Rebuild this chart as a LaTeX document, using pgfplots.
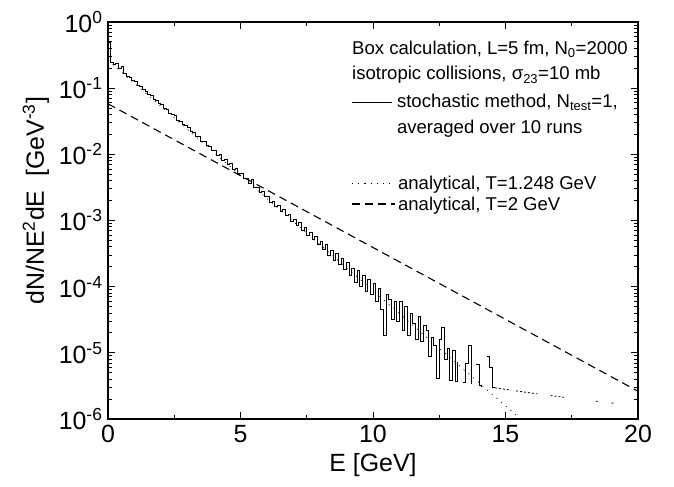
\documentclass[border=0pt]{standalone}
\usepackage{pgfplots}
\pgfplotsset{compat=1.18}
\usepackage{fontspec}
\setmainfont{Liberation Sans}

\pgfplotstableread{
E y
0.0 0.49
0.1 0.245
0.2 0.225
0.3 0.235
0.4 0.200
0.5 0.212
0.6 0.166
0.7 0.150
0.8 0.146
0.9 0.130
1.0 0.124
1.1 0.110
1.2 0.106
1.3 0.094
1.4 0.089
1.5 0.079
1.6 0.077
1.7 0.068
1.8 0.066
1.9 0.058
2.0 0.0560
2.1 0.0490
2.2 0.0480
2.3 0.0420
2.4 0.0400
2.5 0.0380
2.6 0.0325
2.7 0.0318
2.8 0.0280
2.9 0.0272
3.0 0.0252
3.1 0.0218
3.2 0.0215
3.3 0.0188
3.4 0.0183
3.5 0.0158
3.6 0.0157
3.7 0.0134
3.8 0.0133
3.9 0.0114
4.0 0.0114
4.1 0.0097
4.2 0.0098
4.3 0.0082
4.4 0.0083
4.5 0.0070
4.6 0.0072
4.7 0.0060
4.8 0.0062
4.9 0.0051
5.0 5.1e-3
5.1 4.3e-3
5.2 4.35e-3
5.3 3.6e-3
5.4 4.2e-3
5.5 3.1e-3
5.6 3.15e-3
5.7 2.65e-3
5.8 2.75e-3
5.9 2.3e-3
6.0 2.3e-3
6.1 1.90e-3
6.2 1.95e-3
6.3 1.62e-3
6.4 1.70e-3
6.5 1.38e-3
6.6 1.45e-3
6.7 1.18e-3
6.8 1.24e-3
6.9 0.98e-3
7.0 1.05e-3
7.1 8.4e-4
7.2 9.2e-4
7.3 7.0e-4
7.4 7.8e-4
7.5 6.0e-4
7.6 6.7e-4
7.7 5.1e-4
7.8 5.7e-4
7.9 4.4e-4
8.0 4.9e-4
8.1 3.6e-4
8.2 4.3e-4
8.3 3.0e-4
8.4 3.5e-4
8.5 2.5e-4
8.6 3.2e-4
8.7 2.2e-4
8.8 2.7e-4
8.9 1.8e-4
9.0 2.3e-4
9.1 1.5e-4
9.2 1.9e-4
9.3 1.15e-4
9.4 1.75e-4
9.5 1.0e-4
9.6 1.45e-4
9.7 0.85e-4
9.8 1.3e-4
9.9 0.75e-4
10.0 1.1e-4
10.1 6.0e-5
10.2 9.5e-5
10.3 4.5e-5
10.4 1.8e-5
10.5 7.5e-5
10.6 6.5e-5
10.7 3.2e-5
10.8 6.0e-5
10.9 3.0e-5
11.0 6.0e-5
11.1 2.2e-5
11.2 5.0e-5
11.3 1.8e-5
11.4 3.9e-5
11.5 2.8e-5
11.6 1.6e-5
11.7 3.5e-5
11.8 1.5e-5
11.9 2.6e-5
12.0 2.2e-5
12.1 8.7e-6
12.2 1.7e-5
12.3 1.3e-5
12.4 4.1e-6
12.5 1.6e-5
12.6 2.4e-5
12.7 7.8e-6
12.8 1.15e-5
12.9 3.8e-6
13.0 1.1e-5
13.1 3.7e-6
13.2 7.2e-6
13.3 nan
13.4 3.6e-6
13.5 7.0e-6
13.6 1.3e-5
13.7 3.4e-6
13.8 nan
13.9 6.6e-6
14.0 3.2e-6
14.1 3.1e-6
14.2 nan
14.3 8.9e-6
14.4 6.0e-6
14.5 2.95e-6
14.6 2.95e-6
}\histo

\pgfplotstableread{
E y
14.6 2.96e-6
15.2 2.73e-6
15.3 nan
15.4 2.66e-6
16.2 2.40e-6
16.4 nan
16.7 2.26e-6
17.2 2.13e-6
17.8 nan
18.4 1.86e-6
18.5 1.84e-6
18.7 nan
19.0 1.75e-6
19.1 1.73e-6
}\single

\begin{document}
\begin{tikzpicture}
\useasboundingbox (-108bp,-68bp) rectangle (566bp,419bp);
\begin{axis}[
  at={(0,0)}, anchor=south west,
  scale only axis, width=530bp, height=397bp,
  xmin=0, xmax=20, ymin=1e-6, ymax=1, ymode=log,
  xtick={0,5,10,15,20}, minor xtick={2.5,7.5,12.5,17.5},
  xticklabels={0,5,10,15,20},
  ytick={1e-6,1e-5,1e-4,1e-3,1e-2,1e-1,1},
  yticklabels={10\textsuperscript{-6},10\textsuperscript{-5},10\textsuperscript{-4},10\textsuperscript{-3},10\textsuperscript{-2},10\textsuperscript{-1},10\textsuperscript{0}},
  minor ytick={2e-6,3e-6,4e-6,5e-6,6e-6,7e-6,8e-6,9e-6,
               2e-5,3e-5,4e-5,5e-5,6e-5,7e-5,8e-5,9e-5,
               2e-4,3e-4,4e-4,5e-4,6e-4,7e-4,8e-4,9e-4,
               2e-3,3e-3,4e-3,5e-3,6e-3,7e-3,8e-3,9e-3,
               2e-2,3e-2,4e-2,5e-2,6e-2,7e-2,8e-2,9e-2,
               0.2,0.3,0.4,0.5,0.6,0.7,0.8,0.9},
  tick align=inside, major tick length=7bp, minor tick length=4bp,
  axis line style={line width=1.2bp},
  tick style={line width=1bp, black},
  ticklabel style={font=\fontsize{25}{30}\selectfont},
  xticklabel style={yshift=-3bp},
  yticklabel style={xshift=-2bp},
  xlabel={E [GeV]},
  ylabel={dN/NE\textsuperscript{2}dE\ \ [GeV\textsuperscript{-3}]},
  label style={font=\fontsize{25}{30}\selectfont},
  xlabel style={at={(axis description cs:0.5,-0.116)}, anchor=center},
  ylabel style={at={(axis description cs:-0.136,0.55)}, anchor=center},
  unbounded coords=jump,
]
\addplot[black, line width=0.6bp, dash pattern=on 1.2bp off 5bp] coordinates {(0,0.263) (16,7.1e-7)};
\addplot[black, line width=1.1bp, dash pattern=on 8bp off 5bp] coordinates {(0,0.058) (20,2.63e-6)};
\addplot[black, line width=1bp, const plot mark left] table[x=E,y=y] {\histo};
\addplot[black, line width=0.8bp, dash pattern=on 2bp off 2bp] table[x=E,y=y] {\single};

\node[anchor=base west, font=\fontsize{18.6}{22}\selectfont, inner sep=0pt] at (rel axis cs:0.4604,0.919) {Box calculation, L=5 fm, N\textsubscript{0}=2000};
\node[anchor=base west, font=\fontsize{18.6}{22}\selectfont, inner sep=0pt] at (rel axis cs:0.4604,0.854) {isotropic collisions, σ\textsubscript{23}=10 mb};
\draw[black, line width=0.8bp] (rel axis cs:0.4604,0.798) -- (rel axis cs:0.5358,0.798);
\node[anchor=base west, font=\fontsize{18.6}{22}\selectfont, inner sep=0pt] at (rel axis cs:0.545,0.7834) {stochastic method, N\textsubscript{test}=1,};
\node[anchor=base west, font=\fontsize{18.6}{22}\selectfont, inner sep=0pt] at (rel axis cs:0.545,0.720) {averaged over 10 runs};
\draw[black, line width=0.6bp, dash pattern=on 1.2bp off 5bp] (rel axis cs:0.4604,0.5945) -- (rel axis cs:0.5415,0.5945);
\node[anchor=base west, font=\fontsize{18.6}{22}\selectfont, inner sep=0pt] at (rel axis cs:0.547,0.579) {analytical, T=1.248 GeV};
\draw[black, line width=1.1bp, dash pattern=on 8bp off 5bp] (rel axis cs:0.4604,0.5416) -- (rel axis cs:0.5415,0.5416);
\node[anchor=base west, font=\fontsize{18.6}{22}\selectfont, inner sep=0pt] at (rel axis cs:0.547,0.526) {analytical, T=2 GeV};
\end{axis}
\end{tikzpicture}
\end{document}
